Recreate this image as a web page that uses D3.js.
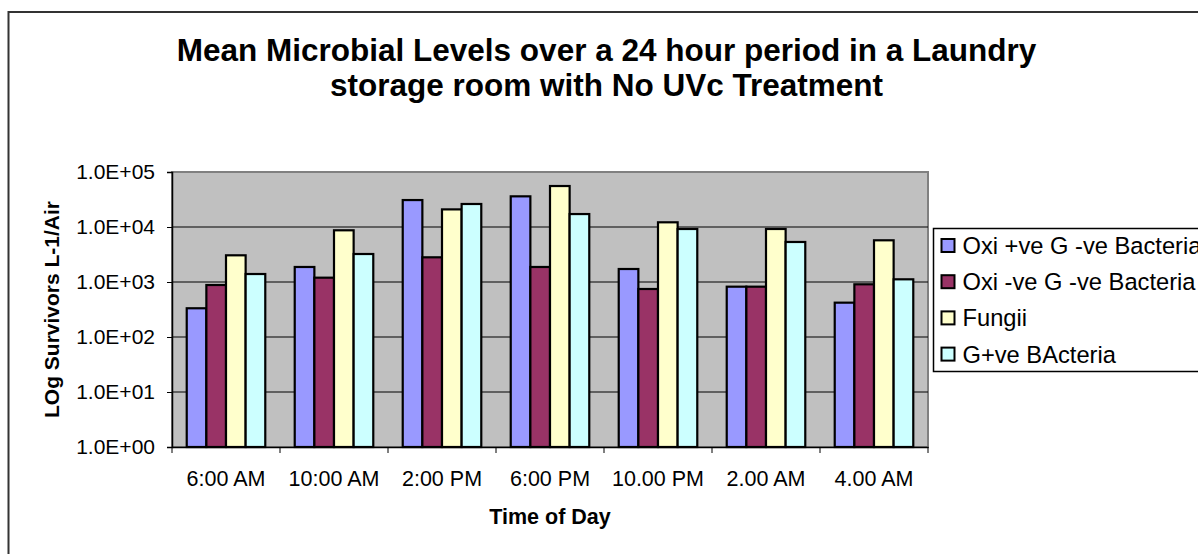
<!DOCTYPE html>
<html>
<head>
<meta charset="utf-8">
<script src="https://cdn.jsdelivr.net/npm/d3@7"></script>
<style>
  html, body { margin: 0; padding: 0; background: #fff; overflow: hidden; }
  svg { display: block; font-family: "Liberation Sans", Arial, sans-serif; }
</style>
</head>
<body>
<svg id="chart" width="1198" height="554"></svg>
<script>
// ---- data ----
const categories = ["6:00 AM", "10:00 AM", "2:00 PM", "6:00 PM", "10.00 PM", "2.00 AM", "4.00 AM"];
const seriesNames = ["Oxi +ve G -ve Bacteria", "Oxi -ve G -ve Bacteria", "Fungii", "G+ve BActeria"];
const oxiPosValues = [333, 1875, 30900, 36100, 1723, 822, 421];
const oxiNegValues = [882, 1198, 2812, 1875, 746, 822, 908];
const fungiiValues = [3057, 8710, 20900, 55600, 12170, 9200, 5730];
const gPosValues   = [1397, 3228, 26200, 17200, 9200, 5340, 1119];
const yTickValues  = [1, 10, 100, 1000, 10000, 100000];
const titleLines = ["Mean Microbial Levels over a 24 hour period in a Laundry", "storage room with No UVc Treatment"];
const yAxisTitle = "LOg Survivors L-1/Air";
const xAxisTitle = "Time of Day";

const seriesValues = [oxiPosValues, oxiNegValues, fungiiValues, gPosValues];
const colors = ["#9999FF", "#993366", "#FFFFCC", "#CCFFFF"];

// ---- layout ----
const svg = d3.select("#chart");
const plot = { left: 172, top: 172, right: 928, bottom: 447 };

// chart border (extends beyond the image on right/bottom)
svg.append("rect")
  .attr("x", 8.5).attr("y", 12).attr("width", 1300).attr("height", 700)
  .attr("fill", "#fff").attr("stroke", "#333").attr("stroke-width", 2);

// title
svg.append("g").selectAll("text").data(titleLines).join("text")
  .attr("x", 606.5).attr("y", (d, i) => 61 + i * 34.5)
  .attr("text-anchor", "middle")
  .attr("font-size", 31.5).attr("font-weight", "bold").attr("fill", "#000")
  .text(d => d);

// scales
const x = d3.scaleBand().domain(categories).range([plot.left, plot.right]).padding(0);
const bw = x.bandwidth();
const xs = d3.scaleBand().domain(d3.range(seriesNames.length))
  .range([bw * 0.75 / 5.5, bw * 4.75 / 5.5]).padding(0);
const y = d3.scaleLog().domain([1, 100000]).range([plot.bottom, plot.top]);

// plot area
svg.append("rect")
  .attr("x", plot.left).attr("y", plot.top)
  .attr("width", plot.right - plot.left).attr("height", plot.bottom - plot.top)
  .attr("fill", "#C0C0C0").attr("stroke", "#808080").attr("stroke-width", 2);

// gridlines
svg.append("g").selectAll("line").data(yTickValues.slice(1, -1)).join("line")
  .attr("x1", plot.left).attr("x2", plot.right)
  .attr("y1", d => y(d)).attr("y2", d => y(d))
  .attr("stroke", "#000").attr("stroke-width", 1);

// bars
const groups = svg.append("g").selectAll("g").data(categories).join("g")
  .attr("transform", c => `translate(${x(c)},0)`);
groups.selectAll("rect")
  .data((c, ci) => seriesValues.map((vals, si) => ({ si, v: vals[ci] })))
  .join("rect")
  .attr("x", d => xs(d.si)).attr("width", xs.bandwidth())
  .attr("y", d => y(d.v)).attr("height", d => y(1) - y(d.v))
  .attr("fill", d => colors[d.si]).attr("stroke", "#000").attr("stroke-width", 2.2);

// y axis
const fmt = d => "1.0E+" + String(Math.round(Math.log10(d))).padStart(2, "0");
const yAxis = svg.append("g").attr("transform", `translate(${plot.left},0)`)
  .call(d3.axisLeft(y).tickValues(yTickValues).tickFormat(fmt).tickSize(5).tickPadding(12));
yAxis.select(".domain").attr("stroke", "#000").attr("stroke-width", 1.5);
yAxis.selectAll(".tick line").attr("stroke", "#000");
yAxis.selectAll("text").attr("font-size", 21).attr("font-family", "Liberation Sans, Arial, sans-serif").attr("fill", "#000");

// x axis
const xAxis = svg.append("g").attr("transform", `translate(0,${plot.bottom})`)
  .call(d3.axisBottom(x).tickSize(0).tickPadding(24));
xAxis.select(".domain").attr("stroke", "#000").attr("stroke-width", 1.5);
xAxis.selectAll("text").attr("font-size", 21.5).attr("font-family", "Liberation Sans, Arial, sans-serif").attr("fill", "#000");
// category boundary ticks
svg.append("g").selectAll("line").data(categories.concat([null])).join("line")
  .attr("x1", (c, i) => plot.left + i * bw).attr("x2", (c, i) => plot.left + i * bw)
  .attr("y1", plot.bottom).attr("y2", plot.bottom + 6)
  .attr("stroke", "#000").attr("stroke-width", 1);

// axis titles
svg.append("text")
  .attr("transform", `translate(59,${(plot.top + plot.bottom) / 2}) rotate(-90)`)
  .attr("text-anchor", "middle").attr("font-size", 21).attr("font-weight", "bold")
  .text(yAxisTitle);
svg.append("text")
  .attr("x", (plot.left + plot.right) / 2).attr("y", 524)
  .attr("text-anchor", "middle").attr("font-size", 21.5).attr("font-weight", "bold")
  .text(xAxisTitle);

// legend
const lg = svg.append("g");
lg.append("rect").attr("x", 933.5).attr("y", 228.5).attr("width", 320).attr("height", 143)
  .attr("fill", "#fff").attr("stroke", "#000").attr("stroke-width", 1.5);
const items = lg.selectAll("g").data(seriesNames).join("g")
  .attr("transform", (d, i) => `translate(0,${245.5 + i * 36.2})`);
items.append("rect").attr("x", 941.5).attr("y", -6.5).attr("width", 13).attr("height", 13)
  .attr("fill", (d, i) => colors[i]).attr("stroke", "#000").attr("stroke-width", 2);
items.append("text").attr("x", 962.5).attr("y", 0).attr("dy", "0.36em")
  .attr("font-size", 23.7).attr("fill", "#000").text(d => d);
</script>
</body>
</html>
